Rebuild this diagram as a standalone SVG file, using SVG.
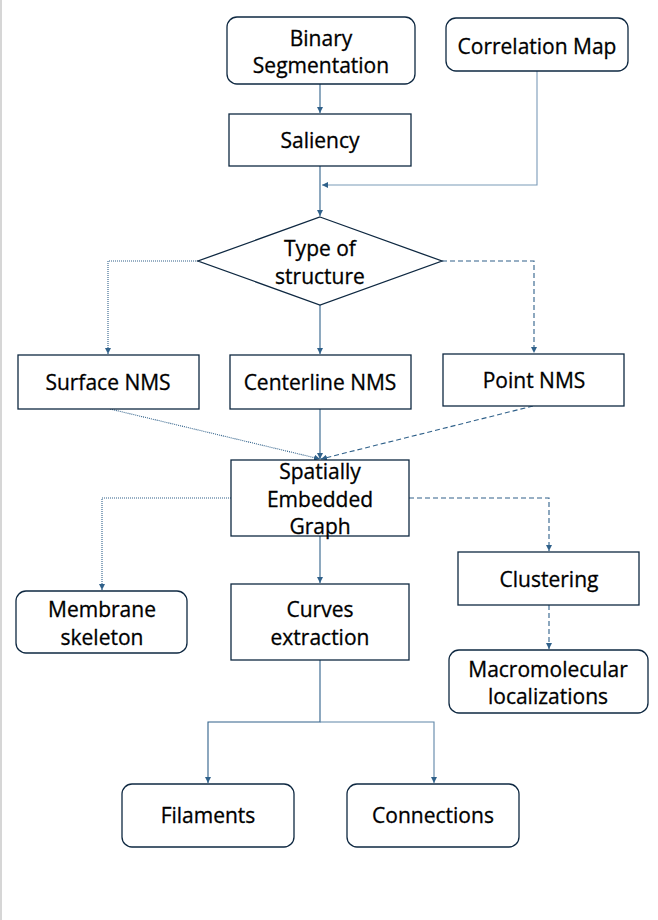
<svg xmlns="http://www.w3.org/2000/svg" width="658" height="920" viewBox="0 0 658 920">
<style>
.box{fill:#fff;stroke:#0e2841;stroke-width:1.3}
.t{font-family:"Open Sans","Liberation Sans",sans-serif;font-size:21px;fill:#000;stroke:#000;stroke-width:0.3;text-anchor:middle}
.c{fill:none;stroke:#30618a;stroke-width:1.1}
.lt{stroke:#7b9bb8}
.dot{stroke-dasharray:1 1}
.dash{stroke-dasharray:5 3}
</style>
<defs>
<marker id="a" markerUnits="userSpaceOnUse" markerWidth="8" markerHeight="8" refX="6" refY="3" orient="auto">
<path d="M0,0 L6,3 L0,6 Z" fill="#30618a"/>
</marker>
</defs>
<rect x="0" y="0" width="2" height="920" fill="#d6d6d6"/>
<g id="connectors">
<path class="c" d="M320,84 V113" marker-end="url(#a)"/>
<path class="c lt" d="M537,71 V185 H322" marker-end="url(#a)"/>
<path class="c" d="M320,166 V216" marker-end="url(#a)"/>
<path class="c dot" d="M198,261 H108 V354" marker-end="url(#a)"/>
<path class="c" d="M320,305 V354" marker-end="url(#a)"/>
<path class="c dash" d="M442,261 H534 V353" marker-end="url(#a)"/>
<path class="c dot" d="M110,409 L320,459" marker-end="url(#a)"/>
<path class="c" d="M320,409 V459" marker-end="url(#a)"/>
<path class="c dash" d="M533,406 L321,459" marker-end="url(#a)"/>
<path class="c dot" d="M231,498 H102 V590" marker-end="url(#a)"/>
<path class="c" d="M320,536 V583" marker-end="url(#a)"/>
<path class="c dash" d="M409,498 H549 V551" marker-end="url(#a)"/>
<path class="c dash" d="M549,605 V649" marker-end="url(#a)"/>
<path class="c" d="M320,660 V722 H208 V783" marker-end="url(#a)"/>
<path class="c" d="M320,722 H434 V783" marker-end="url(#a)" style="stroke:#5f86a8"/>
</g>
<g id="binary-segmentation">
<rect class="box" x="227" y="17" width="188" height="67" rx="10"/>
<text class="t" x="321" y="46">Binary</text>
<text class="t" x="321" y="73">Segmentation</text>
</g>
<g id="correlation-map">
<rect class="box" x="446" y="18" width="182" height="53" rx="10"/>
<text class="t" x="537" y="54">Correlation Map</text>
</g>
<g id="saliency">
<rect class="box" x="229" y="114" width="182" height="52"/>
<text class="t" x="320" y="148">Saliency</text>
</g>
<g id="type-of-structure">
<polygon class="box" points="320,217 442,261 320,305 198,261"/>
<text class="t" x="320" y="256">Type of</text>
<text class="t" x="320" y="284">structure</text>
</g>
<g id="surface-nms">
<rect class="box" x="18" y="355" width="181" height="54"/>
<text class="t" x="108" y="390">Surface NMS</text>
</g>
<g id="centerline-nms">
<rect class="box" x="230" y="355" width="181" height="54"/>
<text class="t" x="320" y="390">Centerline NMS</text>
</g>
<g id="point-nms">
<rect class="box" x="443" y="354" width="181" height="52"/>
<text class="t" x="534" y="388">Point NMS</text>
</g>
<g id="spatially-embedded-graph">
<rect class="box" x="231" y="460" width="178" height="76"/>
<text class="t" x="320" y="479">Spatially</text>
<text class="t" x="320" y="507">Embedded</text>
<text class="t" x="320" y="534">Graph</text>
</g>
<g id="membrane-skeleton">
<rect class="box" x="16" y="591" width="171" height="62" rx="10"/>
<text class="t" x="102" y="617">Membrane</text>
<text class="t" x="102" y="645">skeleton</text>
</g>
<g id="curves-extraction">
<rect class="box" x="231" y="584" width="178" height="76"/>
<text class="t" x="320" y="617">Curves</text>
<text class="t" x="320" y="645">extraction</text>
</g>
<g id="clustering">
<rect class="box" x="458" y="552" width="181" height="53"/>
<text class="t" x="549" y="587">Clustering</text>
</g>
<g id="macromolecular-localizations">
<rect class="box" x="449" y="650" width="199" height="63" rx="10"/>
<text class="t" x="548" y="677">Macromolecular</text>
<text class="t" x="548" y="704">localizations</text>
</g>
<g id="filaments">
<rect class="box" x="122" y="784" width="172" height="63" rx="10"/>
<text class="t" x="208" y="823">Filaments</text>
</g>
<g id="connections">
<rect class="box" x="347" y="784" width="172" height="63" rx="10"/>
<text class="t" x="433" y="823">Connections</text>
</g>
</svg>
